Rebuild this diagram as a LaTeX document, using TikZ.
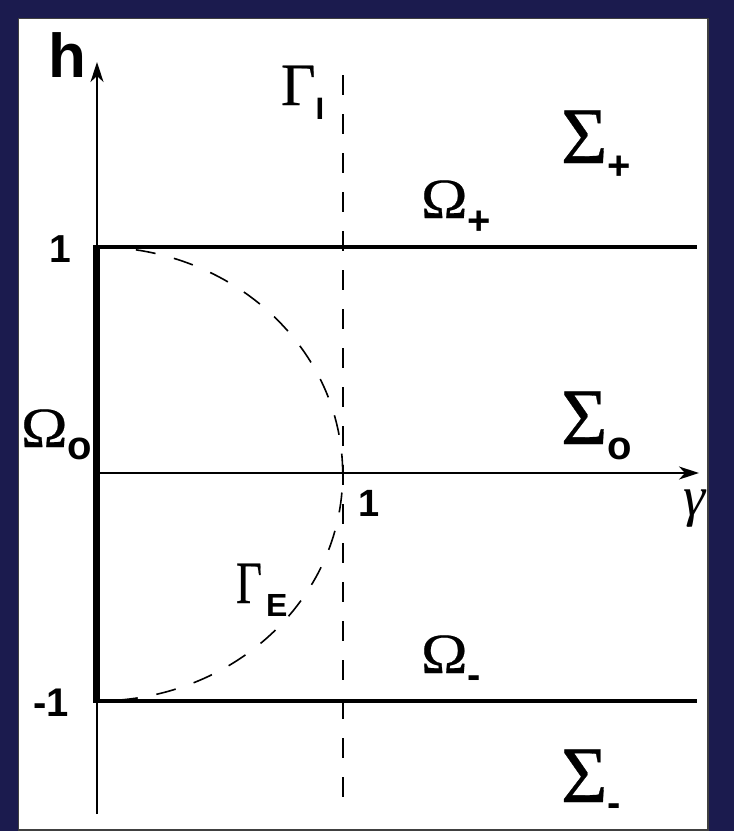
\documentclass[tikz,border=0pt]{standalone}
\usepackage{fontspec}
\setmainfont{Liberation Serif}
\newfontfamily\lsans{Liberation Sans}
\newfontfamily\gser[FakeBold=0.4]{Liberation Serif}
\usetikzlibrary{arrows.meta}
\definecolor{navy}{RGB}{27,27,78}
\newcommand{\fsz}[1]{\fontsize{#1}{#1}\selectfont}
\newcommand{\subf}[1]{\fontsize{#1}{#1}\selectfont\lsans\bfseries}
\tikzset{
  lab/.style={inner sep=0pt, outer sep=0pt, anchor=base west},
  num/.style={inner sep=0pt, outer sep=0pt, font=\lsans\bfseries},
  axis/.style={line width=1.8pt, -{Stealth[length=20pt,width=13pt,inset=6pt]}},
  bound/.style={line width=3.2pt},
  thickb/.style={line width=7pt},
  dashl/.style={line width=1.6pt, dash pattern=on 20pt off 19pt},
}
\begin{document}
\begin{tikzpicture}[x=1pt,y=-1pt]
\useasboundingbox (0,0) rectangle (734,831);
\fill[navy] (0,0) rectangle (734,831);
\filldraw[fill=white, draw=black!75, line width=1.6pt] (18.5,18.5) rectangle (708,830);
\begin{scope}
\clip (19.3,19.3) rectangle (707.2,829);
% coordinates
\coordinate (hb) at (97,814);
\coordinate (ht) at (97,62);
\coordinate (gl) at (97,473);
\coordinate (gr) at (699,473);
\coordinate (ot) at (96.5,245.4);
\coordinate (ob) at (96.5,702.6);
\coordinate (tl) at (93,247);
\coordinate (tr) at (697,247);
\coordinate (bl) at (93,701);
\coordinate (br) at (697,701);
\coordinate (vt) at (342.7,75);
\coordinate (vb) at (342.7,814);
\coordinate (et) at (97,247);
% axes
\draw[axis] (hb) -- (ht);
\draw[axis] (gl) -- (gr);
% boundaries
\draw[bound] (tl) -- (tr);
\draw[bound] (bl) -- (br);
\draw[thickb] (ot) -- (ob);
% dashed curves
\draw[dashl] (vt) -- (vb);
\draw[dashl] (et) arc[start angle=-90, end angle=90, x radius=245.7, y radius=227];
% labels
\node[num, font=\lsans\bfseries\fsz{62}] (h) at (67.5,55.5) {h};
\node[num, font=\lsans\bfseries\fsz{39}] (one) at (60.5,249.5) {1};
\node[num, font=\lsans\bfseries\fsz{40}] (mone) at (51,702.5) {-1};
\node[num, font=\lsans\bfseries\fsz{38}] (onex) at (369,503.5) {1};
\node[inner sep=0pt, font=\fsz{56}\itshape] (gam) at (695,509) {γ};
\node[lab] (Sp) at (561,163) {\gser\fsz{80}Σ\raisebox{-16pt}{\subf{40}+}};
\node[lab] (So) at (561,444) {\gser\fsz{80}Σ\raisebox{-15pt}{\subf{40}o}};
\node[lab] (Sm) at (561,802) {\gser\fsz{80}Σ\raisebox{-14pt}{\subf{40}-}};
\node[lab] (Op) at (421,218) {\gser\fsz{57}\scalebox{1.1}[1]{Ω}\raisebox{-16pt}{\subf{40}+}};
\node[lab] (Om) at (421,673) {\gser\fsz{57}\scalebox{1.1}[1]{Ω}\raisebox{-15pt}{\subf{40}-}};
\node[lab] (Oo) at (21,447) {\gser\fsz{57}\scalebox{1.1}[1]{Ω}\raisebox{-12pt}{\subf{40}o}};
\node[lab] (GI) at (281,105) {\gser\fsz{60}Γ\raisebox{-14pt}{\subf{31}I}};
\node[lab] (GE) at (236,603) {\gser\fsz{60}\scalebox{0.75}[1]{Γ}\hspace{4pt}\raisebox{-13pt}{\subf{32}E}};
\end{scope}
\end{tikzpicture}
\end{document}
